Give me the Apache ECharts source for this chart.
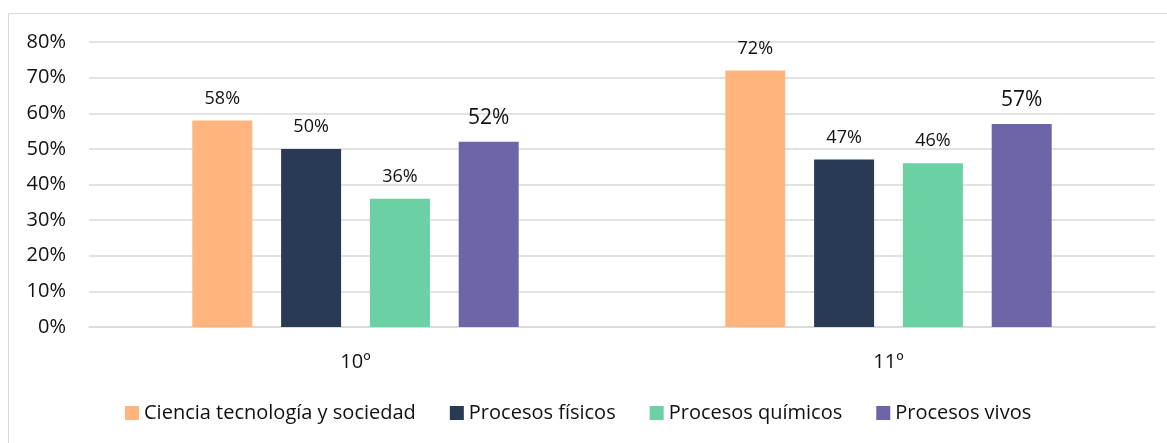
<!DOCTYPE html>
<html>
<head>
<meta charset="utf-8">
<script src="https://cdn.jsdelivr.net/npm/echarts@6/dist/echarts.min.js"></script>
<style>html,body{margin:0;padding:0;background:#fff}#c{width:1167px;height:443px}</style>
</head>
<body>
<div id="c"></div>
<script>
const categories = ['10º', '11º'];
const seriesNames = ['Ciencia tecnología y sociedad', 'Procesos físicos', 'Procesos químicos', 'Procesos vivos'];
const cts = [58, 72];
const fisicos = [50, 47];
const quimicos = [36, 46];
const vivos = [52, 57];
const yTicks = [0, 10, 20, 30, 40, 50, 60, 70, 80];

const colors = ['#FFB57D', '#283A54', '#6BD0A3', '#6C65A8'];
const values = [cts, fisicos, quimicos, vivos];
const font = '"Open Sans", "Noto Sans", sans-serif';

const chart = echarts.init(document.getElementById('c'), null, {renderer: 'canvas'});
chart.setOption({
  animation: false,
  textStyle: {fontFamily: font},
  graphic: [{
    type: 'rect', shape: {x: 8.5, y: 13.5, width: 1170, height: 440},
    style: {fill: 'none', stroke: '#d9d9d9', lineWidth: 1}, z: -1
  }],
  grid: {left: 89, right: 12, top: 42, bottom: 116},
  legend: {
    data: seriesNames, top: 398, left: 120,
    itemWidth: 14, itemHeight: 14, itemGap: 34,
    icon: 'rect',
    textStyle: {fontFamily: font, fontSize: 20, color: '#111'}
  },
  xAxis: {
    type: 'category', data: categories,
    axisLine: {lineStyle: {color: '#d9d9d9', width: 1.5}},
    axisTick: {show: false},
    axisLabel: {fontFamily: font, fontSize: 20, color: '#111', margin: 25}
  },
  yAxis: {
    type: 'value', min: 0, max: 80, interval: 10,
    axisLine: {show: false}, axisTick: {show: false},
    splitLine: {lineStyle: {color: '#d9d9d9', width: 1.5}},
    axisLabel: {fontFamily: font, fontSize: 20, color: '#111', margin: 23,
      formatter: v => yTicks.includes(v) ? v + '%' : ''}
  },
  series: values.map((vals, i) => ({
    name: seriesNames[i], type: 'bar', data: vals,
    barWidth: 60, barGap: '48%',
    itemStyle: {color: colors[i]},
    label: {show: true, position: 'top', distance: i === 3 ? 13 : 13,
      formatter: p => p.value + '%',
      fontFamily: font, fontSize: i === 3 ? 21 : 18, color: '#111'}
  }))
});
</script>
</body>
</html>
